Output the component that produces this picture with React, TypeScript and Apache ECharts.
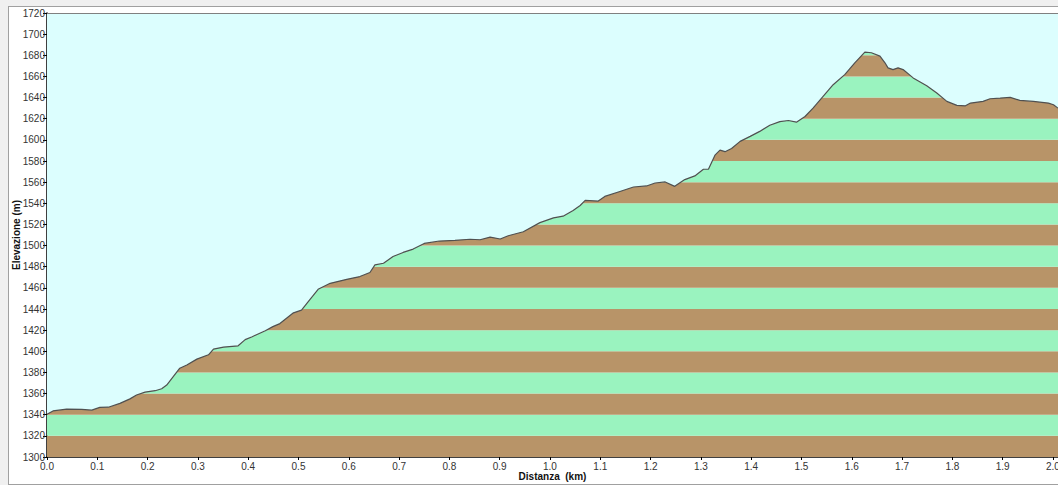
import React, { useEffect, useRef } from "react";
import * as echarts from "echarts";

const distances: number[] = [
  0.0, 0.012, 0.039, 0.069, 0.089, 0.105, 0.122, 0.145, 0.165, 0.178, 0.195, 0.215, 0.228, 0.238,
  0.251, 0.264, 0.278, 0.298, 0.321, 0.331, 0.351, 0.38, 0.394, 0.408, 0.434, 0.449, 0.463, 0.49,
  0.506, 0.523, 0.539, 0.563, 0.596, 0.622, 0.642, 0.652, 0.669, 0.688, 0.708, 0.728, 0.75, 0.78,
  0.811, 0.841, 0.861, 0.881, 0.901, 0.917, 0.947, 0.98, 1.007, 1.026, 1.046, 1.06, 1.07, 1.096,
  1.109, 1.139, 1.166, 1.192, 1.209, 1.229, 1.248, 1.268, 1.288, 1.305, 1.315, 1.328, 1.338, 1.348,
  1.361, 1.378, 1.398, 1.417, 1.437, 1.457, 1.474, 1.49, 1.507, 1.523, 1.543, 1.563, 1.586, 1.606,
  1.626, 1.639, 1.656, 1.666, 1.672, 1.682, 1.692, 1.702, 1.722, 1.749, 1.769, 1.789, 1.809, 1.826,
  1.836, 1.861, 1.875, 1.895, 1.915, 1.934, 1.961, 1.991, 2.001, 2.01,
];

const elevations: number[] = [
  1340.5, 1343.6, 1345.2, 1345.0, 1344.3, 1346.9, 1347.1, 1350.7, 1355.0, 1358.6, 1361.4, 1362.7,
  1364.6, 1368.1, 1376.0, 1384.0, 1387.1, 1392.6, 1396.7, 1402.1, 1404.0, 1405.2, 1411.0, 1413.8,
  1419.5, 1423.3, 1426.2, 1436.4, 1438.9, 1449.0, 1458.6, 1464.3, 1468.1, 1470.7, 1474.5, 1481.7,
  1483.3, 1489.7, 1493.5, 1496.7, 1502.0, 1504.3, 1505.0, 1506.0, 1505.5, 1508.0, 1506.2, 1509.3,
  1513.1, 1521.7, 1526.2, 1527.8, 1533.1, 1537.9, 1542.7, 1542.1, 1546.5, 1551.2, 1555.4, 1556.4,
  1559.2, 1560.2, 1556.0, 1562.4, 1565.9, 1572.2, 1572.2, 1585.5, 1590.3, 1588.8, 1591.9, 1598.6,
  1603.3, 1608.0, 1613.8, 1617.3, 1618.3, 1616.7, 1622.1, 1630.0, 1641.1, 1652.2, 1661.7, 1672.9,
  1683.0, 1682.4, 1679.2, 1672.9, 1668.1, 1666.5, 1668.1, 1666.5, 1658.6, 1651.2, 1644.3, 1636.4,
  1632.6, 1632.2, 1634.8, 1636.4, 1638.9, 1639.5, 1640.2, 1637.3, 1636.4, 1634.8, 1633.2, 1630.0,
];

// Elevation bands (m) used for the alternating colour stripes
const bandStarts: number[] = [
  1300, 1320, 1340, 1360, 1380, 1400, 1420, 1440, 1460, 1480, 1500, 1520, 1540, 1560, 1580, 1600,
  1620, 1640, 1660, 1680, 1700,
];
const bandSize = 20;

const yMin = 1300;
const yMax = 1720;
const yStep = 20;
const xMin = 0;
const xMax = 2.01;
const xStep = 0.1;

const BROWN = "#b89468";
const GREEN = "#9af3bf";
const SKY = "#dcfefe";

export default function App() {
  const ref = useRef<HTMLDivElement>(null);

  useEffect(() => {
    if (!ref.current) return;
    const chart = echarts.init(ref.current, null, { renderer: "svg" });
    const profile = distances.map((d, i) => [d, elevations[i]]);
    const stripes = bandStarts.map((b, i) => [
      { yAxis: b, itemStyle: { color: i % 2 === 0 ? BROWN : GREEN } },
      { yAxis: b + bandSize },
    ]);
    const font = "'Liberation Sans', Arial, sans-serif";
    chart.setOption({
      animation: false,
      backgroundColor: "#ffffff",
      grid: { left: 47, right: 0, top: 13, bottom: 28, containLabel: false, outerBoundsMode: "none" },
      xAxis: {
        type: "value",
        min: xMin,
        max: xMax,
        interval: xStep,
        name: "Distanza  (km)",
        nameLocation: "middle",
        nameGap: 14,
        nameMoveOverlap: false,
        nameTextStyle: { fontFamily: font, fontSize: 10, fontWeight: "bold", color: "#111" },
        axisLine: { show: true, lineStyle: { color: "#000", width: 1.5 } },
        axisTick: { show: true, length: 3, lineStyle: { color: "#000" } },
        axisLabel: {
          fontFamily: font,
          fontSize: 10,
          color: "#333",
          margin: 4,
          showMaxLabel: false,
          hideOverlap: false,
          formatter: (v: number) => {
            const r = Math.round(v * 10) / 10;
            return Math.abs(r - v) < 1e-6 ? r.toFixed(1) : "";
          },
        },
        splitLine: { show: false },
      },
      yAxis: {
        type: "value",
        min: yMin,
        max: yMax,
        interval: yStep,
        name: "Elevazione (m)",
        nameLocation: "middle",
        nameGap: 26,
        nameMoveOverlap: false,
        nameTextStyle: { fontFamily: font, fontSize: 10, fontWeight: "bold", color: "#111" },
        axisLine: { show: true, lineStyle: { color: "#000", width: 1.5 } },
        axisTick: { show: true, length: 4, lineStyle: { color: "#000" } },
        axisLabel: {
          fontFamily: font,
          fontSize: 10,
          color: "#333",
          margin: 2,
          formatter: (v: number) => String(Math.round(v)),
        },
        splitLine: { show: false },
      },
      graphic: [
        { type: "rect", silent: true, shape: { x: 0, y: 0, width: 1058, height: 6 }, style: { fill: "#f0f0f0" } },
        { type: "rect", silent: true, shape: { x: 0, y: 0, width: 8, height: 485 }, style: { fill: "#f0f0f0" } },
        { type: "line", silent: true, shape: { x1: 8, y1: 6.5, x2: 1058, y2: 6.5 }, style: { stroke: "#a0a0a0", lineWidth: 1 } },
        { type: "line", silent: true, shape: { x1: 8.5, y1: 6, x2: 8.5, y2: 485 }, style: { stroke: "#a0a0a0", lineWidth: 1 } },
        { type: "line", silent: true, shape: { x1: 8, y1: 484.5, x2: 1058, y2: 484.5 }, style: { stroke: "#a0a0a0", lineWidth: 1 } },
        { type: "line", silent: true, z: 100, shape: { x1: 47, y1: 13.5, x2: 1058, y2: 13.5 }, style: { stroke: "#808080", lineWidth: 1 } },
      ],
      series: [
        {
          type: "line",
          data: profile,
          symbol: "none",
          z: 2,
          lineStyle: { color: "#505050", width: 1.2 },
          areaStyle: { color: SKY, opacity: 1, origin: "end" },
          markArea: { silent: true, z: 1, data: stripes },
        },
      ],
    });
    return () => chart.dispose();
  }, []);

  return (
    <div style={{ position: "absolute", left: 0, top: 0, width: 1058, height: 485, overflow: "hidden" }}>
      <div ref={ref} style={{ width: 1058, height: 485 }} />
    </div>
  );
}
